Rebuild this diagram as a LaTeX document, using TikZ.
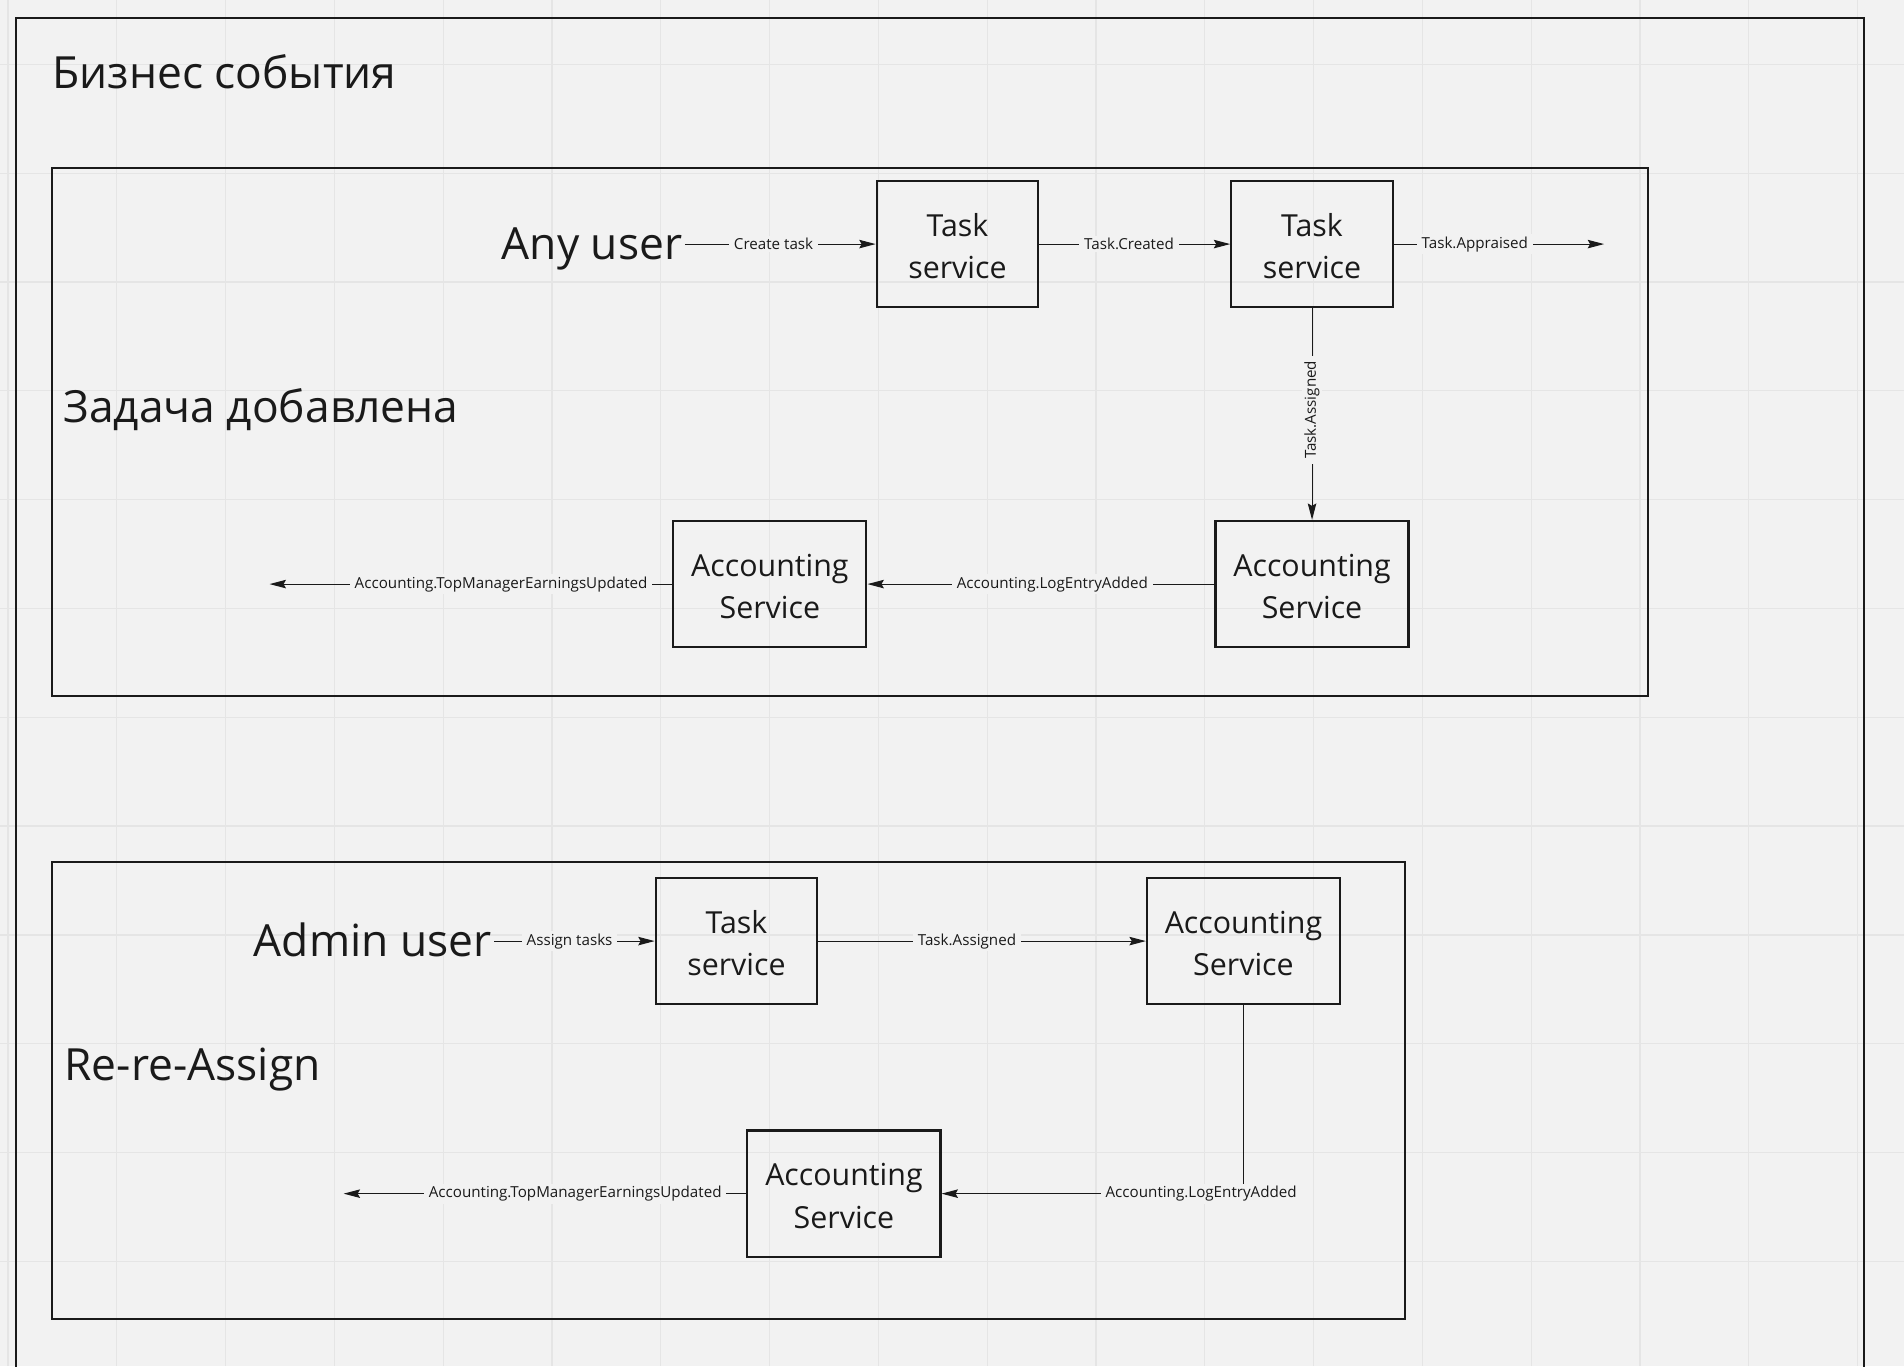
\documentclass[tikz,border=0pt]{standalone}
\usepackage{fontspec}
\setmainfont{Open Sans}
\usetikzlibrary{arrows.meta}
\definecolor{bg}{HTML}{F2F2F2}
\definecolor{gridc}{HTML}{E5E5E5}
\definecolor{ink}{HTML}{1A1A1A}
\newcommand\boxstrut{\rule{0pt}{22pt}}
\begin{document}
\begin{tikzpicture}[x=1pt,y=-1pt,
  svc/.style={draw=ink, line width=1.8pt, minimum width=133pt, minimum height=104pt, inner sep=0pt, align=center, font=\fontsize{25}{35}\selectfont, text=ink},
  acc/.style={svc, minimum width=159pt},
  big/.style={font=\fontsize{36.5}{44}\selectfont, text=ink, inner sep=2pt},
  frame/.style={draw=ink, line width=1.6pt},
  flow/.style={draw=ink, line width=0.9pt, -{Stealth[length=13.5pt,width=7pt,inset=2pt]}},
  lbl/.style={fill=bg, font=\fontsize{12.5}{15}\selectfont, text=ink, inner xsep=4pt, inner ysep=2pt},
  gridline/.style={draw=gridc, line width=1pt}]
\fill[bg] (0,0) rectangle (1568,1125);
\useasboundingbox (0,0) rectangle (1568,1125);
\clip (0,0) rectangle (1568,1125);
% grid
\foreach \i in {-1,...,16} \draw[gridline] ({96.2+89.6*\i},0) -- ++(0,1125);
\foreach \j in {0,...,11} \draw[gridline] (0,{53.1+89.6*\j}) -- ++(1568,0);
% frames
\draw[frame] (13,15) rectangle (1535,1200);
\draw[frame] (43,138) rectangle (1357,573);
\draw[frame] (43,710) rectangle (1157,1086);
% titles
\node[big, anchor=base west] (title) at (41,73) {Бизнес события};
\node[big, anchor=base west] (z1) at (50,348) {Задача добавлена};
\node[big, anchor=base west] (z2) at (51,890) {Re-re-Assign};
% first flow
\node[big, text height=26pt, text depth=0pt, anchor=east] (any) at (564,201) {Any user};
\node[svc] (ts1) at (788.5,201) {\boxstrut Task\\service};
\node[svc] (ts2) at (1080.5,201) {\boxstrut Task\\service};
\node[acc] (as1) at (1080.5,481) {\boxstrut Accounting\\Service};
\node[acc] (as2) at (634,481) {\boxstrut Accounting\\Service};
\coordinate (out1) at (1321,201);
\coordinate (out2) at (222,481);
\draw[flow] (any.east) -- node[lbl, pos=0.465]{Create task} (ts1.west);
\draw[flow] (ts1.east) -- node[lbl, pos=0.47]{Task.Created} (ts2.west);
\draw[flow] (ts2.east) -- node[lbl, pos=0.385]{Task.Appraised} (out1);
\draw[flow] (ts2.south) -- node[lbl, pos=0.48, rotate=90]{Task.Assigned} (as1.north);
\draw[flow] (as1.west) -- node[lbl, pos=0.467]{Accounting.LogEntryAdded} (as2.east);
\draw[flow] (as2.west) -- node[lbl, pos=0.425]{Accounting.TopManagerEarningsUpdated} (out2);
% second flow
\node[big, text height=26pt, text depth=0pt, anchor=east] (admin) at (407,775) {Admin user};
\node[svc] (ts3) at (606.5,775) {\boxstrut Task\\service};
\node[acc] (as3) at (1024,775) {\boxstrut Accounting\\Service};
\node[acc] (as4) at (695,983) {\boxstrut Accounting\\Service};
\coordinate (out3) at (283,983);
\draw[flow] (admin.east) -- node[lbl, pos=0.47]{Assign tasks} (ts3.west);
\draw[flow] (ts3.east) -- node[lbl, pos=0.454]{Task.Assigned} (as3.west);
\draw[flow] (as3.south) |- node[lbl, pos=0.57]{Accounting.LogEntryAdded} (as4.east);
\draw[flow] (as4.west) -- node[lbl, pos=0.425]{Accounting.TopManagerEarningsUpdated} (out3);
\end{tikzpicture}
\end{document}
